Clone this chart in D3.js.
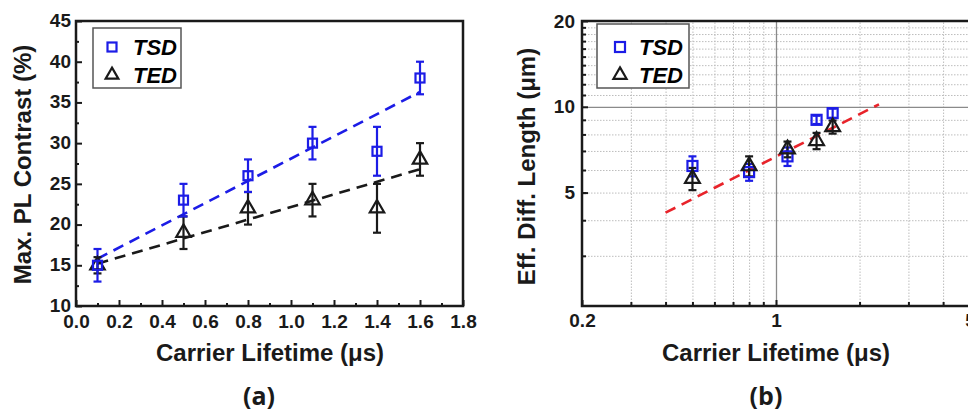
<!DOCTYPE html>
<html>
<head>
<meta charset="utf-8">
<script src="https://cdn.jsdelivr.net/npm/d3@7"></script>
<style>
  body { margin: 0; background: #fff; }
  svg { display: block; font-family: "Liberation Sans", Arial, sans-serif; }
</style>
</head>
<body>
<div id="chart"></div>
<script>
'use strict';

// ---- panel (a) data : max PL contrast vs carrier lifetime
const lifetimeA = [0.1, 0.5, 0.8, 1.1, 1.4, 1.6];
const tsdContrast = [15, 23, 26, 30, 29, 38];
const tsdContrastErr = [2, 2, 2, 2, 3, 2];
const tedContrast = [15, 19, 22, 23, 22, 28];
const tedContrastErr = [1, 2, 2, 2, 3, 2];
// linear fits, read as end points
const tsdFitA = [[0.1, 15.8], [1.6, 36.3]];
const tedFitA = [[0.1, 15.2], [1.6, 26.8]];
const xTicksA = [0, 0.2, 0.4, 0.6, 0.8, 1.0, 1.2, 1.4, 1.6, 1.8];
const yTicksA = [10, 15, 20, 25, 30, 35, 40, 45];

// ---- panel (b) data : effective diffusion length vs carrier lifetime (log-log)
const lifetimeB = [0.5, 0.8, 1.1, 1.4, 1.6];
const tsdLength = [6.2, 5.9, 6.7, 9.0, 9.5];
const tsdLengthErr = [0.5, 0.4, 0.5, 0.3, 0.35];
const tedLength = [5.6, 6.2, 7.1, 7.6, 8.5];
const tedLengthErr = [0.5, 0.5, 0.45, 0.5, 0.45];
const fitB = [[0.4, 4.25], [2.35, 10.2]];
const xLabelsB = [0.2, 1, 5];
const yLabelsB = [5, 10, 20];
const xMinorB = [0.3, 0.4, 0.5, 0.6, 0.7, 0.8, 0.9, 2, 3, 4];
const yMinorB = [3, 4, 5, 6, 7, 8, 9, 11, 12, 13, 14, 15, 16, 17, 18, 19];

const blue = "#1c1ce6";
const dark = "#1a1a1a";

let svg = d3.select("#chart").append("svg")
  .attr("width", 968)
  .attr("height", 416);

function series(xs, ys, errs){
  return xs.map((x, i) => ({x: x, y: ys[i], e: errs[i]}));
}

function drawErrors(g, data, x, y, color, cap){
  let eb = g.append("g").attr("stroke", color).attr("stroke-width", 2.2);
  data.forEach(function(d){
    eb.append("line")
      .attr("x1", x(d.x)).attr("x2", x(d.x))
      .attr("y1", y(d.y - d.e)).attr("y2", y(d.y + d.e));
    [d.y - d.e, d.y + d.e].forEach(function(v){
      eb.append("line")
        .attr("x1", x(d.x) - cap).attr("x2", x(d.x) + cap)
        .attr("y1", y(v)).attr("y2", y(v));
    });
  });
}

function drawSquares(g, data, x, y, size){
  g.selectAll(null).data(data).enter().append("rect")
    .attr("x", d => x(d.x) - size / 2)
    .attr("y", d => y(d.y) - size / 2)
    .attr("width", size).attr("height", size)
    .attr("fill", "none").attr("stroke", blue).attr("stroke-width", 2.2);
}

function drawTriangles(g, data, x, y, size){
  let tri = d3.symbol().type(d3.symbolTriangle).size(size);
  g.selectAll(null).data(data).enter().append("path")
    .attr("d", tri)
    .attr("transform", d => "translate(" + x(d.x) + "," + y(d.y) + ")")
    .attr("fill", "none").attr("stroke", dark).attr("stroke-width", 2.2);
}

function legend(g, bx, by, bw, bh, rowY, mx, tx, sqSize, triSize){
  g.append("rect")
    .attr("x", bx).attr("y", by).attr("width", bw).attr("height", bh)
    .attr("fill", "#fff").attr("stroke", "#555").attr("stroke-width", 1.5);
  g.append("rect")
    .attr("x", mx - sqSize / 2).attr("y", rowY[0] - sqSize / 2)
    .attr("width", sqSize).attr("height", sqSize)
    .attr("fill", "none").attr("stroke", blue).attr("stroke-width", 2.2);
  g.append("path")
    .attr("d", d3.symbol().type(d3.symbolTriangle).size(triSize))
    .attr("transform", "translate(" + mx + "," + rowY[1] + ")")
    .attr("fill", "none").attr("stroke", dark).attr("stroke-width", 2.2);
  ["TSD", "TED"].forEach(function(t, i){
    g.append("text")
      .attr("x", tx).attr("y", rowY[i] + 8)
      .style("font-size", "22px").style("font-weight", "bold").style("font-style", "italic")
      .text(t);
  });
}

function styleLabels(g){
  g.selectAll("text").style("font-size", "19px").style("font-weight", "bold").attr("fill", dark);
}

// ================= panel (a) =================
let A = {left: 76, right: 463, top: 21, bottom: 306};
let xA = d3.scaleLinear().domain([0, 1.8]).range([A.left, A.right]);
let yA = d3.scaleLinear().domain([10, 45]).range([A.bottom, A.top]);
let gA = svg.append("g");

// minor ticks
gA.append("g")
  .attr("transform", "translate(0," + A.bottom + ")")
  .call(d3.axisBottom(xA).tickValues(d3.range(0.1, 1.8, 0.2)).tickSize(-3).tickFormat(""))
  .call(g => g.select(".domain").remove());
gA.append("g")
  .attr("transform", "translate(" + A.left + ",0)")
  .call(d3.axisLeft(yA).tickValues(d3.range(12.5, 45, 5)).tickSize(-3).tickFormat(""))
  .call(g => g.select(".domain").remove());

// major ticks + labels
gA.append("g")
  .attr("transform", "translate(0," + A.bottom + ")")
  .call(d3.axisBottom(xA).tickValues(xTicksA).tickSize(-6).tickPadding(9).tickFormat(d3.format(".1f")))
  .call(g => g.select(".domain").remove())
  .call(styleLabels);
gA.append("g")
  .attr("transform", "translate(" + A.left + ",0)")
  .call(d3.axisLeft(yA).tickValues(yTicksA).tickSize(-6).tickPadding(5))
  .call(g => g.select(".domain").remove())
  .call(styleLabels)
  .call(g => g.selectAll("text").attr("dy", "0.28em"));
gA.selectAll(".tick line").attr("stroke", dark).attr("stroke-width", 2);

gA.append("rect")
  .attr("x", A.left).attr("y", A.top)
  .attr("width", A.right - A.left).attr("height", A.bottom - A.top)
  .attr("fill", "none").attr("stroke", dark).attr("stroke-width", 2.5);

let lineA = d3.line().x(d => xA(d[0])).y(d => yA(d[1]));
gA.append("path").attr("d", lineA(tsdFitA))
  .attr("fill", "none").attr("stroke", blue).attr("stroke-width", 2.6).attr("stroke-dasharray", "11,7");
gA.append("path").attr("d", lineA(tedFitA))
  .attr("fill", "none").attr("stroke", dark).attr("stroke-width", 2.6).attr("stroke-dasharray", "11,7");

let tsdA = series(lifetimeA, tsdContrast, tsdContrastErr);
let tedA = series(lifetimeA, tedContrast, tedContrastErr);
drawErrors(gA, tedA, xA, yA, dark, 4);
drawErrors(gA, tsdA, xA, yA, blue, 4);
drawTriangles(gA, tedA, xA, yA, 90);
drawSquares(gA, tsdA, xA, yA, 9);

legend(gA, 93, 28, 88, 60, [47, 75], 112, 133, 9, 70);

gA.append("text")
  .attr("transform", "translate(31," + ((A.top + A.bottom) / 2 + 1) + ") rotate(-90)")
  .attr("text-anchor", "middle")
  .style("font-size", "24px").style("font-weight", "bold").attr("fill", dark)
  .text("Max. PL Contrast (%)");
gA.append("text")
  .attr("x", 270).attr("y", 361)
  .attr("text-anchor", "middle")
  .style("font-size", "24px").style("font-weight", "bold").attr("fill", dark)
  .text("Carrier Lifetime (\u03bcs)");
gA.append("text")
  .attr("x", 259).attr("y", 405)
  .attr("text-anchor", "middle")
  .style("font-family", "'Open Sans', sans-serif")
  .style("font-size", "25px").style("font-weight", "700").attr("fill", dark)
  .text("(a)");

// ================= panel (b) =================
let B = {left: 582, right: 970, top: 21, bottom: 306};
let xB = d3.scaleLog().domain([0.2, 5]).range([B.left, B.right]);
let yB = d3.scaleLog().domain([2, 20]).range([B.bottom, B.top]);
let gB = svg.append("g");

// dotted minor grid
gB.append("g")
  .attr("transform", "translate(0," + B.bottom + ")")
  .call(d3.axisBottom(xB).tickValues(xMinorB).tickSize(-(B.bottom - B.top)).tickFormat(""))
  .call(g => g.select(".domain").remove())
  .call(g => g.selectAll(".tick line").attr("stroke", "#bdbdbd").attr("stroke-width", 1).attr("stroke-dasharray", "1.5,1.5"));
gB.append("g")
  .attr("transform", "translate(" + B.left + ",0)")
  .call(d3.axisLeft(yB).tickValues(yMinorB).tickSize(-(B.right - B.left)).tickFormat(""))
  .call(g => g.select(".domain").remove())
  .call(g => g.selectAll(".tick line").attr("stroke", "#bdbdbd").attr("stroke-width", 1).attr("stroke-dasharray", "1.5,1.5"));
// solid major grid at the decades
gB.append("g")
  .attr("transform", "translate(0," + B.bottom + ")")
  .call(d3.axisBottom(xB).tickValues([1]).tickSize(-(B.bottom - B.top)).tickFormat(""))
  .call(g => g.select(".domain").remove())
  .call(g => g.selectAll(".tick line").attr("stroke", "#8a8a8a").attr("stroke-width", 1.3));
gB.append("g")
  .attr("transform", "translate(" + B.left + ",0)")
  .call(d3.axisLeft(yB).tickValues([10]).tickSize(-(B.right - B.left)).tickFormat(""))
  .call(g => g.select(".domain").remove())
  .call(g => g.selectAll(".tick line").attr("stroke", "#8a8a8a").attr("stroke-width", 1.3));

// inward ticks
gB.append("g")
  .attr("transform", "translate(0," + B.bottom + ")")
  .call(d3.axisBottom(xB).tickValues(xMinorB).tickSize(-4).tickFormat(""))
  .call(g => g.select(".domain").remove())
  .call(g => g.selectAll(".tick line").attr("stroke", dark).attr("stroke-width", 2));
gB.append("g")
  .attr("transform", "translate(" + B.left + ",0)")
  .call(d3.axisLeft(yB).tickValues(yMinorB).tickSize(-4).tickFormat(""))
  .call(g => g.select(".domain").remove())
  .call(g => g.selectAll(".tick line").attr("stroke", dark).attr("stroke-width", 2));
gB.append("g")
  .attr("transform", "translate(0," + B.bottom + ")")
  .call(d3.axisBottom(xB).tickValues(xLabelsB).tickSize(-6).tickPadding(8).tickFormat(d3.format("")))
  .call(g => g.select(".domain").remove())
  .call(g => g.selectAll(".tick line").attr("stroke", dark).attr("stroke-width", 2))
  .call(styleLabels);
gB.append("g")
  .attr("transform", "translate(" + B.left + ",0)")
  .call(d3.axisLeft(yB).tickValues(yLabelsB).tickSize(-6).tickPadding(7).tickFormat(d3.format("")))
  .call(g => g.select(".domain").remove())
  .call(g => g.selectAll(".tick line").attr("stroke", dark).attr("stroke-width", 2))
  .call(styleLabels);

gB.append("rect")
  .attr("x", B.left).attr("y", B.top)
  .attr("width", B.right - B.left).attr("height", B.bottom - B.top)
  .attr("fill", "none").attr("stroke", dark).attr("stroke-width", 2.5);

let lineB = d3.line().x(d => xB(d[0])).y(d => yB(d[1]));
gB.append("path").attr("d", lineB(fitB))
  .attr("fill", "none").attr("stroke", "#e8232a").attr("stroke-width", 2.6).attr("stroke-dasharray", "11,7");

let tsdB = series(lifetimeB, tsdLength, tsdLengthErr);
let tedB = series(lifetimeB, tedLength, tedLengthErr);
drawErrors(gB, tsdB, xB, yB, blue, 4);
drawErrors(gB, tedB, xB, yB, dark, 4);
drawSquares(gB, tsdB, xB, yB, 10);
drawTriangles(gB, tedB, xB, yB, 95);

legend(gB, 597, 24, 92, 64, [47, 75], 620, 639, 10, 75);

gB.append("text")
  .attr("transform", "translate(535," + ((B.top + B.bottom) / 2 + 3) + ") rotate(-90)")
  .attr("text-anchor", "middle")
  .style("font-size", "24px").style("font-weight", "bold").attr("fill", dark)
  .text("Eff. Diff. Length (\u03bcm)");
gB.append("text")
  .attr("x", 776).attr("y", 361)
  .attr("text-anchor", "middle")
  .style("font-size", "24px").style("font-weight", "bold").attr("fill", dark)
  .text("Carrier Lifetime (\u03bcs)");
gB.append("text")
  .attr("x", 766).attr("y", 405)
  .attr("text-anchor", "middle")
  .style("font-family", "'Open Sans', sans-serif")
  .style("font-size", "25px").style("font-weight", "700").attr("fill", dark)
  .text("(b)");
</script>
</body>
</html>
